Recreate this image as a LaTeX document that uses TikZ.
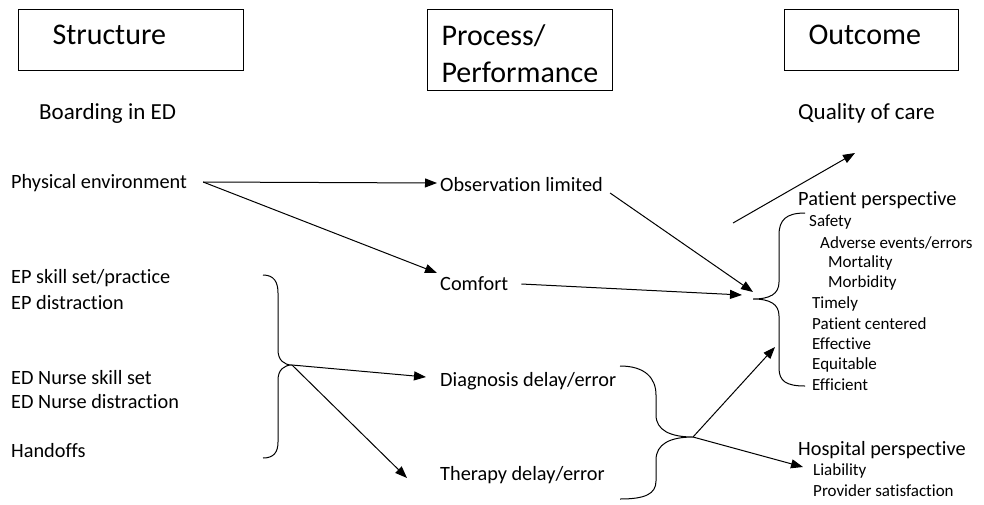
\documentclass[tikz,border=0pt]{standalone}
\usepackage{fontspec}
\setmainfont{Carlito}[Ligatures=NoCommon]
\usepackage{tikz}
\usetikzlibrary{arrows.meta}
\usetikzlibrary{positioning}

\newcommand{\titlesize}{\fontsize{30}{37}\selectfont}
\newcommand{\headsize}{\fontsize{23}{28}\selectfont}
\newcommand{\labelsize}{\fontsize{20.3}{24}\selectfont}
\newcommand{\itemsize}{\fontsize{17}{20}\selectfont}

\tikzset{
  titlebox/.style={draw, line width=1pt, anchor=north west, align=left,
    inner ysep=0pt, font=\titlesize},
  lbl/.style={anchor=west, inner sep=0pt, font=\labelsize},
  head/.style={anchor=west, inner sep=0pt, font=\headsize},
  item/.style={anchor=west, inner sep=0pt, font=\itemsize},
  arr/.style={-{Triangle[length=12pt, width=9pt]}, line width=1pt},
  brace/.style={line width=1pt}
}

\begin{document}
\begin{tikzpicture}[x=1pt, y=-1pt]

    \useasboundingbox (0, 0) rectangle (984, 504);

    \node [titlebox, inner xsep=34pt, text width=157pt, minimum height=61pt,
    text depth=10pt] (struct) at (18, 9) {Structure};
    \node [titlebox, inner xsep=14pt, text width=157pt, minimum height=81pt,
    text depth=30pt] (proc) at (427, 9) {Process/\\Performance};
    \node [titlebox, inner xsep=24pt, text width=126pt, minimum height=61pt,
    text depth=10pt] (outc) at (784, 9) {Outcome};

    \node [head] (board) at (39, 113) {Boarding in ED};
    \node [head] (quality) at (798, 113) {Quality of care};

    % structure column
    \node [lbl] (physenv) at (11, 183) {Physical environment};
    \node [lbl] (epskill) at (11, 278) {EP skill set/practice};
    \node [lbl] (epdist) at (11, 303) {EP distraction};
    \node [lbl] (nskill) at (11, 378) {ED Nurse skill set};
    \node [lbl] (ndist) at (11, 402) {ED Nurse distraction};
    \node [lbl] (handoffs) at (11, 451) {Handoffs};

    % process column
    \node [lbl] (obs) at (440, 185) {Observation limited};
    \node [lbl] (comfort) at (440, 284) {Comfort};
    \node [lbl] (diag) at (440, 381) {Diagnosis delay/error};
    \node [lbl] (therapy) at (440, 475) {Therapy delay/error};

    % outcome column
    \node [lbl] (patpersp) at (798, 200) {Patient perspective};
    \node [item] (safety) at (809, 222) {Safety};
    \node [item] (adverse) at (820, 243) {Adverse events/errors};
    \node [item] (mortality) at (828, 263) {Mortality};
    \node [item] (morbidity) at (828, 283) {Morbidity};
    \node [item] (timely) at (812, 304) {Timely};
    \node [item] (centered) at (812, 324) {Patient centered};
    \node [item] (effective) at (812, 344) {Effective};
    \node [item] (equitable) at (812, 365) {Equitable};
    \node [item] (efficient) at (812, 385) {Efficient};
    \node [lbl] (hosppersp) at (798, 450) {Hospital perspective};
    \node [item] (liability) at (813, 471) {Liability};
    \node [item] (provider) at (813, 491) {Provider satisfaction};

    % brace tips
    \coordinate (ltip) at (292, 365);
    \coordinate (mtip) at (693, 437);
    \coordinate (rtip) at (753, 299);
    \coordinate (up0) at (733, 223);
    \coordinate (up1) at (855, 153);
    \coordinate (rbar) at (775, 347);

    \draw [brace] (263, 275) .. controls (274, 275) and (278, 282) .. (278, 293)
    -- (278, 350) .. controls (278, 360) and (284, 365) .. (ltip)
    .. controls (284, 365) and (278, 370) .. (278, 380)
    -- (278, 442) .. controls (278, 452) and (274, 458) .. (263, 458);

    \draw [brace] (620, 366) .. controls (645, 366) and (656, 378) .. (656, 395)
    -- (656, 415) .. controls (656, 430) and (670, 437) .. (mtip)
    .. controls (670, 437) and (656, 444) .. (656, 460)
    -- (656, 481) .. controls (656, 494) and (645, 499) .. (620, 499);

    \draw [brace] (805, 213) .. controls (786, 213) and (779, 220) .. (779, 235)
    -- (779, 282) .. controls (779, 294) and (770, 299) .. (rtip)
    .. controls (770, 299) and (779, 304) .. (779, 316)
    -- (779, 368) .. controls (779, 381) and (786, 386) .. (805, 386);

    % connectors
    \draw [arr] ([xshift=16pt, yshift=1pt]physenv.east) -- ([xshift=-3pt, yshift=2pt]obs.west);
    \draw [arr] ([xshift=16pt, yshift=1pt]physenv.east) -- ([xshift=-3pt, yshift=11pt]comfort.west);
    \draw [arr] ([xshift=7pt, yshift=-8pt]obs.east) -- ([yshift=7pt]rtip);
    \draw [arr] ([xshift=13pt]comfort.east) -- ([xshift=-11pt, yshift=4pt]rtip);
    \draw [arr] (up0) -- (up1);
    \draw [arr] (ltip) -- ([xshift=-14pt, yshift=4pt]diag.west);
    \draw [arr] (ltip) -- ([xshift=-33pt, yshift=-3pt]therapy.west);
    \draw [arr] (mtip) -- (rbar);
    \draw [arr] (mtip) -- ([xshift=-10pt, yshift=4pt]liability.west);

  \end{tikzpicture}
\end{document}
